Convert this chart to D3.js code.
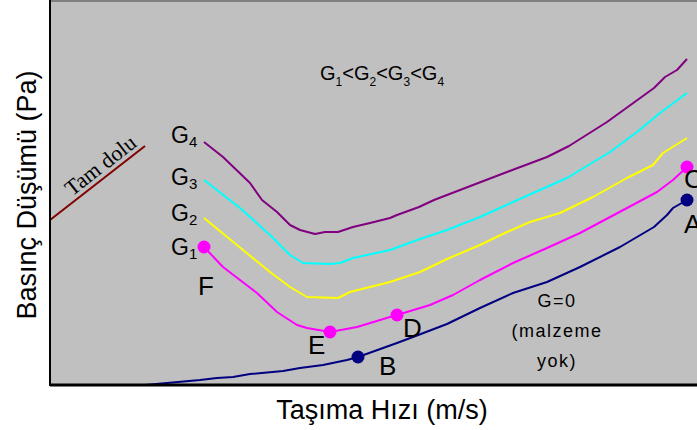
<!DOCTYPE html>
<html>
<head>
<meta charset="utf-8">
<script src="https://cdn.jsdelivr.net/npm/d3@7"></script>
<style>
  body { margin: 0; background: #fff; }
  text { font-family: "Liberation Sans", Arial, sans-serif; }
</style>
</head>
<body>
<svg id="chart" width="697" height="430"></svg>
<script>
// curve values (arbitrary units: velocity, pressure drop)
var g0 = [[95,0],[117,2],[150,5],[167,7],[183,8],[200,11],[233,14],[250,17],[273,20],[297,25],[308,28],[347,42],[363,48],[397,61],[430,77],[463,92],[497,103],[530,118],[570,138],[604,158],[617,170],[623,177],[637,185]];
var g1 = [[154,138],[173,118],[207,92],[227,73],[247,60],[257,57],[280,53],[307,58],[340,68],[347,70],[380,80],[403,90],[430,105],[463,122],[497,137],[530,152],[577,177],[607,193],[623,205],[637,218]];
var g2 = [[154,167],[193,135],[220,113],[240,98],[257,88],[288,87],[300,93],[340,103],[370,113],[397,126],[430,140],[457,153],[480,163],[510,172],[543,188],[577,207],[603,220],[613,232],[637,247]];
var g3 = [[154,205],[190,177],[220,150],[240,130],[253,122],[280,121],[290,122],[303,127],[340,135],[370,146],[397,155],[430,168],[463,183],[490,195],[517,207],[560,233],[587,253],[610,272],[637,292]];
var g4 = [[154,243],[173,228],[200,202],[212,185],[227,173],[240,160],[250,155],[265,151],[275,153],[288,153],[303,158],[320,162],[340,167],[347,170],[369,178],[384,185],[410,195],[457,213],[497,228],[519,239],[557,263],[604,297],[615,308],[627,315],[637,326]];
var tamDolu = [[0,165],[95,239]];

var seriesNames = ["G4", "G3", "G2", "G1", "G=0"];
var seriesColors = ["#800080", "#00ffff", "#ffff00", "#ff00ff", "#000080"];

// marked points on the curves
var g1Points = [{name:"F", v:[154,138]}, {name:"E", v:[280,53]}, {name:"D", v:[347,70]}, {name:"C", v:[637,218]}];
var g0Points = [{name:"B", v:[308,28]}, {name:"A", v:[637,185]}];

var svg = d3.select("#chart"),
    margin = {top: 2, right: 0, bottom: 45, left: 50},
    width  = +svg.attr("width")  - margin.left - margin.right,
    height = +svg.attr("height") - margin.top  - margin.bottom,
    xScale = d3.scaleLinear().domain([0, 647]).range([0, width]),
    yScale = d3.scaleLinear().domain([0, 383]).range([height, 0]),
    g = svg.append("g").attr("transform", `translate(${margin.left},${margin.top})`);

// plot background
g.append("rect")
    .attr("x", 0).attr("y", 0)
    .attr("width", width).attr("height", height)
    .attr("fill", "#c0c0c0");
g.append("line")
    .attr("x1", 0).attr("x2", width).attr("y1", -1).attr("y2", -1)
    .attr("stroke", "#808080").attr("stroke-width", 2);

var line = d3.line().x(d => xScale(d[0])).y(d => yScale(d[1]));

var allSeries = [g4, g3, g2, g1, g0];
g.selectAll(".curve")
    .data(allSeries)
    .enter().append("path")
    .attr("class", "curve")
    .attr("d", line)
    .attr("fill", "none")
    .attr("stroke", (d, i) => seriesColors[i])
    .attr("stroke-width", 2)
    .attr("stroke-linejoin", "round");

g.append("path")
    .attr("d", line(tamDolu))
    .attr("fill", "none")
    .attr("stroke", "#800000")
    .attr("stroke-width", 2);

// tam dolu label
var angle = Math.atan2(yScale(tamDolu[1][1]) - yScale(tamDolu[0][1]), xScale(tamDolu[1][0]) - xScale(tamDolu[0][0])) * 180 / Math.PI;
var mid = [58, 210];
g.append("text")
    .attr("transform", `translate(${xScale(mid[0])},${yScale(mid[1])}) rotate(${angle})`)
    .attr("y", -5)
    .attr("text-anchor", "middle")
    .style("font-family", "'Liberation Serif', 'Times New Roman', serif")
    .style("font-size", "22px")
    .text("Tam dolu");

// points
g.selectAll(".dot1")
    .data(g1Points)
    .enter().append("circle")
    .attr("cx", d => xScale(d.v[0])).attr("cy", d => yScale(d.v[1]))
    .attr("r", 6.5).attr("fill", "#ff00ff");
g.selectAll(".dot0")
    .data(g0Points)
    .enter().append("circle")
    .attr("cx", d => xScale(d.v[0])).attr("cy", d => yScale(d.v[1]))
    .attr("r", 6.5).attr("fill", "#000080");

// point letters
var letterOffsets = {F: [-6, 48], E: [-22, 22], D: [6, 22], C: [-3, 21], B: [21, 18], A: [-3, 33]};
g.selectAll(".letter")
    .data(g1Points.concat(g0Points))
    .enter().append("text")
    .attr("x", d => xScale(d.v[0]) + letterOffsets[d.name][0])
    .attr("y", d => yScale(d.v[1]) + letterOffsets[d.name][1])
    .style("font-size", "26px")
    .text(d => d.name);

// curve labels G1..G4
var startLabels = [{s: g4, n: "4", dy: 1}, {s: g3, n: "3", dy: 5}, {s: g2, n: "2", dy: 3}, {s: g1, n: "1", dy: 8}];
startLabels.forEach(function(l) {
    var t = g.append("text")
        .attr("x", xScale(l.s[0][0]) - 33)
        .attr("y", yScale(l.s[0][1]) + l.dy)
        .style("font-size", "23px");
    t.append("tspan").text("G");
    t.append("tspan").attr("dy", 4).style("font-size", "15px").text(l.n);
});

// inequality title
var title = g.append("text")
    .attr("x", 270).attr("y", 78)
    .style("font-size", "20px")
    .style("letter-spacing", "0px");
["1", "2", "3", "4"].forEach(function(n, i) {
    if (i > 0) title.append("tspan").attr("dy", -6).text("<G");
    else title.append("tspan").text("G");
    title.append("tspan").attr("dy", 6).style("font-size", "12px").text(n);
});

// G=0 label
var g0Lines = ["G=0", "(malzeme", "yok)"];
g.selectAll(".g0lab")
    .data(g0Lines)
    .enter().append("text")
    .attr("x", 507)
    .attr("y", (d, i) => 305 + i * 30)
    .attr("text-anchor", "middle")
    .style("font-size", "18px")
    .style("letter-spacing", "1.5px")
    .text(d => d);

// axes
g.append("line")
    .attr("x1", 0).attr("x2", 0).attr("y1", -2).attr("y2", height + 1)
    .attr("stroke", "#000").attr("stroke-width", 2);
g.append("line")
    .attr("x1", 0).attr("x2", width).attr("y1", height).attr("y2", height)
    .attr("stroke", "#000").attr("stroke-width", 3);

svg.append("text")
    .attr("x", 382).attr("y", 419)
    .attr("text-anchor", "middle")
    .style("font-size", "27px")
    .text("Taşıma Hızı (m/s)");

svg.append("text")
    .attr("transform", "translate(36,195) rotate(-90)")
    .attr("text-anchor", "middle")
    .style("font-size", "27px")
    .text("Basınç Düşümü (Pa)");
</script>
</body>
</html>
